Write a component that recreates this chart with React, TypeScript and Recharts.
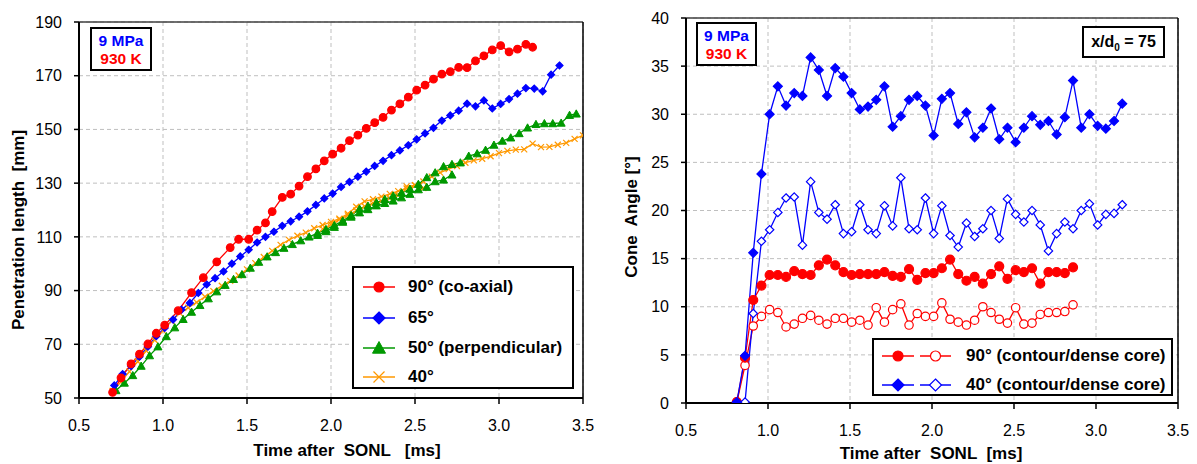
import React from 'react';
import { LineChart, Line, XAxis, YAxis, CartesianGrid, ReferenceLine } from 'recharts';

const FONT = '"Liberation Sans", Arial, Helvetica, sans-serif';
const RED = '#FF0000';
const BLUE = '#0000FF';
const GREEN = '#009900';
const ORANGE = '#FF9900';

// axis ticks
const timeTicks = [0.5, 1.0, 1.5, 2.0, 2.5, 3.0, 3.5];
const lengthTicks = [50, 70, 90, 110, 130, 150, 170, 190];
const angleTicks = [0, 5, 10, 15, 20, 25, 30, 35, 40];

// ---- left chart: penetration length [mm] ----
const t90 = [0.70, 0.75, 0.81, 0.86, 0.91, 0.96, 1.01, 1.09, 1.17, 1.24, 1.32, 1.40, 1.45, 1.51, 1.56, 1.61, 1.65, 1.71, 1.76, 1.81, 1.86, 1.91, 1.96, 2.01, 2.06, 2.11, 2.16, 2.21, 2.26, 2.31, 2.36, 2.41, 2.46, 2.51, 2.56, 2.61, 2.66, 2.71, 2.76, 2.81, 2.86, 2.91, 2.96, 3.01, 3.06, 3.11, 3.16, 3.20];
const len90 = [52.1, 57.5, 62.7, 66.3, 70.1, 74.1, 77.1, 82.5, 89.2, 94.8, 100.7, 106.0, 109.1, 109.1, 112.5, 115.2, 119.4, 124.7, 125.9, 128.9, 132.4, 135.3, 138.3, 140.8, 143.0, 145.8, 147.9, 150.4, 152.5, 154.5, 157.2, 159.5, 162.0, 164.6, 166.5, 168.7, 170.6, 171.5, 173.1, 173.0, 175.5, 177.4, 179.6, 181.2, 178.9, 179.9, 181.7, 180.6];

const t65 = [0.71, 0.76, 0.81, 0.86, 0.91, 0.96, 1.01, 1.06, 1.11, 1.16, 1.21, 1.26, 1.31, 1.36, 1.41, 1.46, 1.51, 1.56, 1.61, 1.66, 1.71, 1.76, 1.81, 1.86, 1.91, 1.96, 2.01, 2.06, 2.11, 2.16, 2.21, 2.26, 2.31, 2.36, 2.41, 2.46, 2.51, 2.56, 2.61, 2.66, 2.71, 2.76, 2.81, 2.86, 2.91, 2.96, 3.01, 3.06, 3.11, 3.16, 3.21, 3.26, 3.31, 3.36];
const len65 = [54.7, 58.9, 61.9, 65.4, 69.1, 73.0, 76.1, 79.2, 82.9, 85.4, 89.1, 92.3, 94.6, 97.1, 100.0, 102.7, 105.2, 107.9, 110.0, 111.9, 114.1, 115.8, 117.5, 119.5, 121.9, 124.3, 126.1, 128.6, 130.5, 132.4, 134.3, 136.4, 138.3, 140.4, 142.2, 144.1, 146.3, 148.5, 150.6, 153.3, 155.2, 157.0, 159.6, 158.6, 160.8, 157.8, 159.5, 161.3, 163.3, 165.4, 165.2, 164.2, 170.4, 173.8];

const t50 = [0.72, 0.77, 0.82, 0.87, 0.92, 0.97, 1.02, 1.07, 1.12, 1.17, 1.22, 1.27, 1.32, 1.37, 1.42, 1.47, 1.52, 1.57, 1.62, 1.67, 1.72, 1.77, 1.82, 1.87, 1.92, 1.97, 2.02, 2.07, 2.12, 2.17, 2.22, 2.27, 2.32, 2.37, 2.42, 2.47, 2.52, 2.57, 2.62, 2.67, 2.72, 2.77, 2.82, 2.87, 2.92, 2.97, 3.02, 3.07, 3.12, 3.17, 3.22, 3.27, 3.32, 3.37, 3.42, 3.46];
const len50 = [52.8, 55.6, 58.4, 61.9, 65.8, 69.1, 72.9, 76.2, 79.3, 82.0, 84.5, 87.0, 89.6, 92.0, 94.2, 96.0, 98.4, 100.6, 102.6, 104.2, 105.8, 107.2, 108.6, 110.0, 111.4, 112.8, 114.3, 116.0, 118.0, 120.4, 121.5, 122.8, 124.0, 125.3, 126.4, 127.8, 129.6, 132.1, 133.9, 136.2, 137.0, 137.6, 140.1, 141.0, 142.3, 144.2, 145.7, 146.9, 148.5, 150.6, 151.9, 152.2, 152.2, 152.4, 155.3, 155.8];
// second 50° run (ends at 2.72 ms)
const t50b = [1.92, 1.97, 2.02, 2.07, 2.12, 2.17, 2.22, 2.27, 2.32, 2.37, 2.42, 2.47, 2.52, 2.57, 2.62, 2.67, 2.72];
const len50b = [110.6, 112.0, 113.6, 115.5, 117.4, 119.0, 120.2, 121.6, 122.5, 123.4, 124.6, 125.9, 127.6, 128.5, 130.6, 131.2, 133.1];

const t40 = [0.70, 0.75, 0.80, 0.85, 0.90, 0.95, 1.00, 1.05, 1.10, 1.15, 1.20, 1.25, 1.30, 1.35, 1.40, 1.45, 1.50, 1.55, 1.60, 1.65, 1.70, 1.75, 1.80, 1.85, 1.90, 1.95, 2.00, 2.05, 2.10, 2.15, 2.20, 2.25, 2.30, 2.35, 2.40, 2.45, 2.50, 2.55, 2.60, 2.65, 2.70, 2.75, 2.80, 2.85, 2.90, 2.95, 3.00, 3.05, 3.10, 3.15, 3.20, 3.25, 3.30, 3.35, 3.40, 3.45, 3.50];
const len40 = [52.6, 56.0, 59.8, 63.6, 67.6, 71.6, 75.0, 78.6, 81.6, 83.6, 85.6, 87.7, 89.8, 91.8, 93.6, 95.6, 97.9, 100.2, 102.5, 104.8, 107.0, 108.9, 110.4, 111.6, 113.2, 114.4, 115.6, 116.8, 118.6, 121.2, 123.2, 124.0, 125.0, 126.0, 127.0, 128.0, 129.2, 130.6, 132.4, 133.9, 135.2, 136.4, 137.6, 138.5, 139.1, 140.0, 141.2, 142.0, 142.5, 142.6, 144.7, 143.4, 143.5, 144.3, 145.0, 146.5, 147.8];
// second 40° run (ends at 2.55 ms)
const t40b = [1.95, 2.00, 2.05, 2.10, 2.15, 2.20, 2.25, 2.30, 2.35, 2.40, 2.45, 2.50, 2.55];
const len40b = [113.0, 114.6, 116.4, 118.0, 119.8, 121.4, 122.6, 123.4, 124.4, 125.5, 128.8, 129.2, 128.2];

// ---- right chart: cone angle [°] ----
const tA90 = [0.81, 0.86, 0.91, 0.96, 1.01, 1.06, 1.11, 1.16, 1.21, 1.26, 1.31, 1.36, 1.41, 1.46, 1.51, 1.56, 1.61, 1.66, 1.71, 1.76, 1.81, 1.86, 1.91, 1.96, 2.01, 2.06, 2.11, 2.16, 2.21, 2.26, 2.31, 2.36, 2.41, 2.46, 2.51, 2.56, 2.61, 2.66, 2.71, 2.76, 2.81, 2.86];
const contour90 = [0.1, 4.7, 10.7, 12.2, 13.3, 13.3, 13.1, 13.7, 13.4, 13.3, 14.3, 14.9, 14.3, 13.6, 13.3, 13.4, 13.4, 13.4, 13.6, 13.2, 13.1, 13.9, 12.8, 13.5, 13.5, 14.0, 14.9, 13.4, 12.7, 13.1, 12.4, 13.4, 14.2, 12.9, 13.8, 13.6, 14.0, 12.4, 13.6, 13.6, 13.5, 14.1];
const core90 = [0.1, 3.9, 8.0, 9.0, 9.7, 9.4, 7.9, 8.2, 8.8, 9.1, 8.6, 8.2, 8.8, 8.8, 8.4, 8.6, 8.1, 9.9, 8.4, 9.7, 10.3, 8.1, 9.3, 9.0, 9.0, 10.4, 8.7, 8.4, 8.1, 8.6, 10.0, 9.4, 8.7, 8.3, 9.9, 8.2, 8.3, 9.2, 9.4, 9.4, 9.5, 10.2];

const tA40 = [0.81, 0.86, 0.91, 0.96, 1.01, 1.06, 1.11, 1.16, 1.21, 1.26, 1.31, 1.36, 1.41, 1.46, 1.51, 1.56, 1.61, 1.66, 1.71, 1.76, 1.81, 1.86, 1.91, 1.96, 2.01, 2.06, 2.11, 2.16, 2.21, 2.26, 2.31, 2.36, 2.41, 2.46, 2.51, 2.56, 2.61, 2.66, 2.71, 2.76, 2.81, 2.86, 2.91, 2.96, 3.01, 3.06, 3.11, 3.16];
const contour40 = [0.1, 4.9, 15.6, 23.8, 30.0, 32.9, 30.9, 32.2, 31.9, 35.9, 34.6, 31.9, 34.8, 33.9, 32.2, 30.5, 30.8, 31.5, 32.9, 28.7, 29.8, 31.5, 31.9, 30.9, 27.8, 31.6, 32.2, 29.0, 30.2, 27.6, 28.6, 30.6, 27.4, 28.6, 27.1, 28.6, 29.8, 28.9, 29.3, 27.9, 29.7, 33.5, 28.6, 30.0, 28.8, 28.5, 29.3, 31.1];
const tCore40 = [0.86, 0.91, 0.96, 1.01, 1.06, 1.11, 1.16, 1.21, 1.26, 1.31, 1.36, 1.41, 1.46, 1.51, 1.56, 1.61, 1.66, 1.71, 1.76, 1.81, 1.86, 1.91, 1.96, 2.01, 2.06, 2.11, 2.16, 2.21, 2.26, 2.31, 2.36, 2.41, 2.46, 2.51, 2.56, 2.61, 2.66, 2.71, 2.76, 2.81, 2.86, 2.91, 2.96, 3.01, 3.06, 3.11, 3.16];
const core40 = [0.1, 9.3, 16.8, 18.0, 19.8, 21.3, 21.4, 16.4, 23.0, 19.8, 19.1, 20.6, 17.6, 17.8, 20.6, 18.0, 17.6, 20.5, 18.4, 23.4, 18.1, 18.0, 21.3, 17.6, 20.5, 17.4, 16.2, 18.7, 17.3, 18.1, 20.0, 17.1, 21.2, 19.6, 18.8, 20.0, 18.5, 15.8, 17.6, 18.8, 18.1, 20.0, 20.7, 18.5, 19.6, 19.7, 20.6];

const toRows = (t: number[], v: number[]) => t.map((x, i) => ({ t: x, v: v[i] }));

type Shape = 'circle' | 'diamond' | 'triangle' | 'cross';

const Marker = ({ shape, x, y, s, color, open }: { shape: Shape; x: number; y: number; s: number; color: string; open?: boolean }) => {
  const fill = open ? '#FFFFFF' : color;
  if (shape === 'circle') return <circle cx={x} cy={y} r={s} fill={fill} stroke={color} strokeWidth={1.2} />;
  if (shape === 'diamond')
    return <path d={`M${x},${y - s}L${x + s},${y}L${x},${y + s}L${x - s},${y}Z`} fill={fill} stroke={color} strokeWidth={1.2} />;
  if (shape === 'triangle')
    return <path d={`M${x},${y - s}L${x + s},${y + s * 0.8}L${x - s},${y + s * 0.8}Z`} fill={fill} stroke={color} strokeWidth={1} />;
  return <path d={`M${x - s},${y - s}L${x + s},${y + s}M${x + s},${y - s}L${x - s},${y + s}`} stroke={color} strokeWidth={1.2} fill="none" />;
};

const dotOf = (shape: Shape, s: number, color: string, open = false) => (p: any) => {
  if (p.cx == null || p.cy == null) return <g key={`e${p.index}`} />;
  return (
    <g key={`m${p.index}`}>
      <Marker shape={shape} x={p.cx} y={p.cy} s={s} color={color} open={open} />
    </g>
  );
};

const tickStyle = { fill: '#000', fontSize: 16, fontFamily: FONT };
const fmt = (v: number) => v.toFixed(1);

const abs = (left: number, top: number, extra: React.CSSProperties = {}): React.CSSProperties => ({
  position: 'absolute',
  left,
  top,
  ...extra,
});

const boxStyle: React.CSSProperties = {
  border: '2px solid #000',
  background: '#fff',
  boxSizing: 'border-box',
  fontFamily: FONT,
  fontWeight: 'bold',
};

const LegendRow = ({ top, marker, label, textLeft }: { top: number; marker: React.ReactNode; label: string; textLeft: number }) => (
  <>
    <svg style={abs(0, top - 10)} width={textLeft} height={20}>
      {marker}
    </svg>
    <div style={abs(textLeft, top - 11, { fontSize: 17, lineHeight: '22px', whiteSpace: 'pre' })}>{label}</div>
  </>
);

const sample = (x1: number, x2: number, shape: Shape, s: number, color: string, open = false) => (
  <>
    <line x1={x1} y1={10} x2={x2} y2={10} stroke={color} strokeWidth={1.5} />
    <Marker shape={shape} x={(x1 + x2) / 2} y={10} s={s} color={color} open={open} />
  </>
);

const axisTitle: React.CSSProperties = {
  fontFamily: FONT,
  fontWeight: 'bold',
  fontSize: 17,
  whiteSpace: 'pre',
  color: '#000',
};

export default function App() {
  return (
    <div style={{ position: 'relative', width: 1197, height: 464, background: '#fff', overflow: 'hidden' }}>
      <style>{'body{margin:0}'}</style>

      {/* left chart */}
      <div style={abs(0, 0)}>
        <LineChart width={600} height={464} margin={{ top: 22, right: 17, left: 29, bottom: 26 }}>
          <CartesianGrid stroke="#BFBFBF" strokeDasharray="4 3" />
          <XAxis
            type="number"
            dataKey="t"
            domain={[0.5, 3.5]}
            ticks={timeTicks}
            tickFormatter={fmt}
            height={40}
            tick={tickStyle}
            tickSize={6}
            tickMargin={16}
            axisLine={{ stroke: '#000', strokeWidth: 2 }}
            tickLine={{ stroke: '#000', strokeWidth: 1.5 }}
            allowDataOverflow
          />
          <YAxis
            type="number"
            domain={[50, 190]}
            ticks={lengthTicks}
            width={50}
            tick={tickStyle}
            tickSize={5}
            tickMargin={12}
            axisLine={{ stroke: '#000', strokeWidth: 2 }}
            tickLine={{ stroke: '#000', strokeWidth: 1.5 }}
            allowDataOverflow
          />
          <ReferenceLine y={190} stroke="#404040" strokeWidth={1.5} />
          <ReferenceLine x={3.5} stroke="#000" strokeWidth={1.5} />
          <Line data={toRows(t40b, len40b)} dataKey="v" stroke={ORANGE} strokeWidth={1.3} dot={dotOf('cross', 3, ORANGE)} activeDot={false} isAnimationActive={false} />
          <Line data={toRows(t40, len40)} dataKey="v" stroke={ORANGE} strokeWidth={1.3} dot={dotOf('cross', 3, ORANGE)} activeDot={false} isAnimationActive={false} />
          <Line data={toRows(t50b, len50b)} dataKey="v" stroke={GREEN} strokeWidth={1.3} dot={dotOf('triangle', 4, GREEN)} activeDot={false} isAnimationActive={false} />
          <Line data={toRows(t50, len50)} dataKey="v" stroke={GREEN} strokeWidth={1.3} dot={dotOf('triangle', 4, GREEN)} activeDot={false} isAnimationActive={false} />
          <Line data={toRows(t65, len65)} dataKey="v" stroke={BLUE} strokeWidth={1.3} dot={dotOf('diamond', 3.5, BLUE)} activeDot={false} isAnimationActive={false} />
          <Line data={toRows(t90, len90)} dataKey="v" stroke={RED} strokeWidth={1.3} dot={dotOf('circle', 3.8, RED)} activeDot={false} isAnimationActive={false} />
        </LineChart>
      </div>

      {/* right chart */}
      <div style={abs(600, 0)}>
        <LineChart width={597} height={464} margin={{ top: 18, right: 19, left: 36, bottom: 21 }}>
          <CartesianGrid stroke="#BFBFBF" strokeDasharray="4 3" />
          <XAxis
            type="number"
            dataKey="t"
            domain={[0.5, 3.5]}
            ticks={timeTicks}
            tickFormatter={fmt}
            height={40}
            tick={tickStyle}
            tickSize={6}
            tickMargin={16}
            axisLine={{ stroke: '#000', strokeWidth: 2 }}
            tickLine={{ stroke: '#000', strokeWidth: 1.5 }}
            allowDataOverflow
          />
          <YAxis
            type="number"
            domain={[0, 40]}
            ticks={angleTicks}
            width={50}
            tick={tickStyle}
            tickSize={5}
            tickMargin={12}
            axisLine={{ stroke: '#000', strokeWidth: 2 }}
            tickLine={{ stroke: '#000', strokeWidth: 1.5 }}
            allowDataOverflow
          />
          <ReferenceLine y={40} stroke="#404040" strokeWidth={1.5} />
          <ReferenceLine x={3.5} stroke="#000" strokeWidth={1.5} />
          <Line data={toRows(tA90, core90)} dataKey="v" stroke={RED} strokeWidth={1.3} dot={dotOf('circle', 4.2, RED, true)} activeDot={false} isAnimationActive={false} />
          <Line data={toRows(tA90, contour90)} dataKey="v" stroke={RED} strokeWidth={1.3} dot={dotOf('circle', 4.5, RED)} activeDot={false} isAnimationActive={false} />
          <Line data={toRows(tCore40, core40)} dataKey="v" stroke={BLUE} strokeWidth={1.3} dot={dotOf('diamond', 4.2, BLUE, true)} activeDot={false} isAnimationActive={false} />
          <Line data={toRows(tA40, contour40)} dataKey="v" stroke={BLUE} strokeWidth={1.3} dot={dotOf('diamond', 4.5, BLUE)} activeDot={false} isAnimationActive={false} />
        </LineChart>
      </div>

      {/* axis titles */}
      <div style={abs(347, 451, { ...axisTitle, transform: 'translate(-50%, -50%)' })}>{'Time after  SONL   [ms]'}</div>
      <div style={abs(931, 454, { ...axisTitle, transform: 'translate(-50%, -50%)' })}>{'Time after  SONL  [ms]'}</div>
      <div style={abs(18.5, 230, { ...axisTitle, transform: 'translate(-50%, -50%) rotate(-90deg)' })}>{'Penetration length  [mm]'}</div>
      <div style={abs(632, 217, { ...axisTitle, transform: 'translate(-50%, -50%) rotate(-90deg)' })}>{'Cone  Angle [°]'}</div>

      {/* condition boxes */}
      <div style={abs(90, 27, { ...boxStyle, width: 62, height: 44, fontSize: 15.5, lineHeight: '18px', textAlign: 'center', paddingTop: 3 })}>
        <div style={{ color: BLUE }}>9 MPa</div>
        <div style={{ color: RED }}>930 K</div>
      </div>
      <div style={abs(696, 22, { ...boxStyle, width: 61, height: 44, fontSize: 15.5, lineHeight: '18px', textAlign: 'center', paddingTop: 3 })}>
        <div style={{ color: BLUE }}>9 MPa</div>
        <div style={{ color: RED }}>930 K</div>
      </div>
      <div style={abs(1082, 26, { ...boxStyle, width: 83, height: 32, fontSize: 16, lineHeight: '28px', textAlign: 'center' })}>
        x/d<sub style={{ fontSize: 10, verticalAlign: 'sub', lineHeight: 0 }}>0</sub> = 75
      </div>

      {/* left legend */}
      <div style={abs(352, 266, { ...boxStyle, width: 222, height: 123 })}>
        <LegendRow top={19} textLeft={54} label="90° (co-axial)" marker={sample(9, 41, 'circle', 5, RED)} />
        <LegendRow top={49.5} textLeft={54} label="65°" marker={sample(9, 41, 'diamond', 6, BLUE)} />
        <LegendRow top={79.5} textLeft={54} label="50° (perpendicular)" marker={sample(9, 41, 'triangle', 6.5, GREEN)} />
        <LegendRow top={109} textLeft={54} label="40°" marker={sample(9, 41, 'cross', 5.5, ORANGE)} />
      </div>

      {/* right legend */}
      <div style={abs(872, 338, { ...boxStyle, width: 301, height: 58 })}>
        <LegendRow
          top={15.5}
          textLeft={92}
          label="90° (contour/dense core)"
          marker={
            <>
              {sample(8, 40, 'circle', 5, RED)}
              {sample(46, 77, 'circle', 5, RED, true)}
            </>
          }
        />
        <LegendRow
          top={45}
          textLeft={92}
          label="40° (contour/dense core)"
          marker={
            <>
              {sample(8, 40, 'diamond', 6, BLUE)}
              {sample(46, 77, 'diamond', 6, BLUE, true)}
            </>
          }
        />
      </div>
    </div>
  );
}
